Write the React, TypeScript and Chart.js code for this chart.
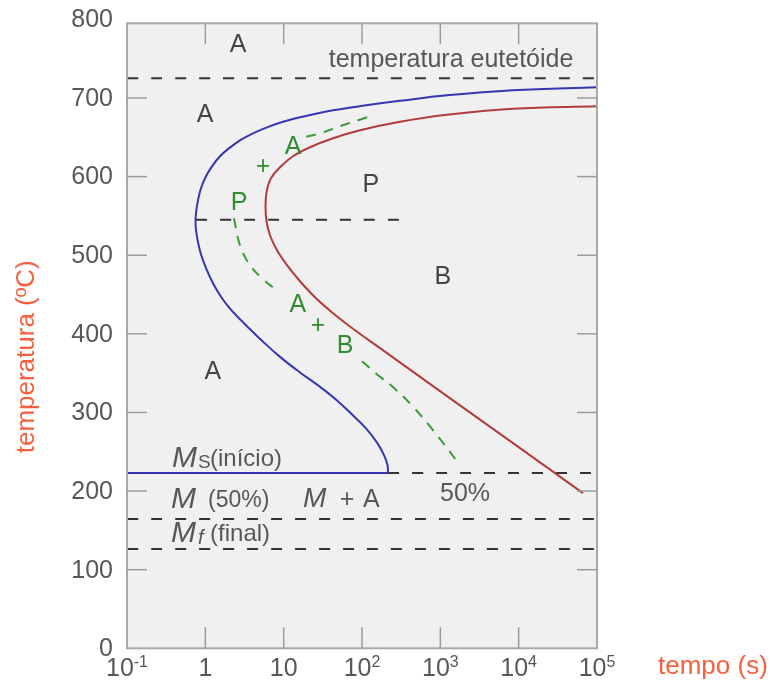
import React, { useEffect, useRef } from 'react';
import { Chart, registerables } from 'chart.js';

Chart.register(...registerables);

// ---- axes ----
const TIME_MIN = 0.1;
const TIME_MAX = 100000;
const TEMP_MIN = 0;
const TEMP_MAX = 795;
const TEMP_TICKS = [0, 100, 200, 300, 400, 500, 600, 700, 800];
const TIME_TICKS = [0.1, 1, 10, 100, 1000, 10000, 100000];
const TIME_TICK_BASE = ['10', '1', '10', '10', '10', '10', '10'];
const TIME_TICK_EXP = ['-1', '', '', '2', '3', '4', '5'];

// ---- start of transformation (blue) ----
const START_TIME = [100000, 8472, 1216, 305.5, 112.5, 42.66, 16.17, 9.81, 6.13, 4.06, 2.77, 2.005, 1.539, 1.216, 1.02, 0.88, 0.806, 0.76,
  0.749,
  0.76, 0.806, 0.88, 1.02, 1.253, 1.585, 2.065, 2.77, 3.72, 5.29, 8.98, 16.17, 29.1, 48.0, 76.8, 112.5, 155.5, 191, 211.7, 214.8];
const START_TEMP = [713.6, 709.8, 703.4, 696.4, 690.7, 684.3, 675.4, 669.7, 662.7, 655.1, 646.2, 636.0, 625.9, 613.1, 600.4, 585.2, 569.9, 553.4,
  541.9,
  531.8, 516.5, 501.3, 483.5, 464.4, 447.2, 432.0, 418.6, 405.9, 391.3, 370.7, 350.9, 332.6, 315.3, 296.2, 279.7, 261.6, 245.7, 233.0, 222.9];

// ---- end of transformation (red) ----
const FINISH_TIME = [100000, 8472, 1216, 305.5, 94.4, 42.66, 21.7, 13.16, 9.25, 6.89, 6.04, 5.87,
  6.04, 6.69, 8.22, 11.03, 16.17, 25.87, 42.66, 81.5, 170, 1216, 8472, 66200];
const FINISH_TEMP = [689.4, 686.2, 678.6, 669.7, 658.9, 648.7, 637.3, 625.9, 613.1, 597.9, 580.1, 561.0,
  543.2, 525.4, 506.4, 487.3, 466.9, 445.3, 426.3, 404.6, 381.8, 320.8, 261.0, 197.4];

// ---- 50% transformation (green dashed, three pieces) ----
const HALF_A_TIME = [116, 52, 29, 17.7];
const HALF_A_TEMP = [675.4, 664.0, 655.1, 650.0];
const HALF_B_TIME = [2.32, 2.77, 3.72, 5.45, 8.47];
const HALF_B_TEMP = [547.0, 512.7, 487.3, 469.5, 454.2];
const HALF_C_TIME = [100, 170, 250, 450, 805, 1780];
const HALF_C_TEMP = [365.2, 345.3, 332.2, 307.1, 277.5, 233.0];

// ---- reference temperatures ----
const EUTECTOID_TEMP = 725;
const SPLIT_TEMP = 545;
const SPLIT_TIME = [0.76, 420];
const MS_TEMP = 222.9;
const MS_END_TIME = 214.8;
const M50_TEMP = 164.4;
const MF_TEMP = 126.2;

// ---- text labels (time, temperature) ----
const REGION_TEXT = ['A', 'A', 'P', 'B', 'A'];
const REGION_TIME = [2.61, 0.99, 130, 1080, 1.25];
const REGION_TEMP = [767, 678, 589, 472, 351];
const GREEN_TEXT = ['A', '+', 'P', 'A', '+', 'B'];
const GREEN_TIME = [13.2, 5.45, 2.69, 15.2, 27.5, 60.7];
const GREEN_TEMP = [637, 612, 566, 436, 410, 384];

const FONT = "'Liberation Sans', Arial, Helvetica, sans-serif";
const BLUE = '#3636b4';
const RED = '#b23c3c';
const GREEN = '#3a9a3a';
const GREEN_TEXT_COLOR = '#2f8c2f';
const DARK = '#444444';
const GRAY = '#575757';
const ORANGE = '#f5603f';

const pts = (ts: number[], vs: number[]) => ts.map((t, i) => ({ x: t, y: vs[i] }));

const annotate = {
  id: 'annotate',
  beforeDraw(chart: any) {
    const { ctx, chartArea: a } = chart;
    ctx.save();
    ctx.fillStyle = '#f0f0f0';
    ctx.fillRect(a.left, a.top, a.right - a.left, a.bottom - a.top);
    ctx.restore();
  },
  afterDatasetsDraw(chart: any) {
    const { ctx, chartArea: a, scales } = chart;
    const xs = scales.x;
    const ys = scales.y;
    const X = (t: number) => xs.getPixelForValue(t);
    const Y = (v: number) => ys.getPixelForValue(v);
    const line = (x1: number, y1: number, x2: number, y2: number) => {
      ctx.beginPath();
      ctx.moveTo(x1, y1);
      ctx.lineTo(x2, y2);
      ctx.stroke();
    };
    const text = (s: string, x: number, y: number, font: string, color: string, align = 'left', base = 'alphabetic') => {
      ctx.font = font;
      ctx.fillStyle = color;
      ctx.textAlign = align;
      ctx.textBaseline = base;
      ctx.fillText(s, x, y);
    };
    ctx.save();
    // frame
    ctx.strokeStyle = '#a9a9a9';
    ctx.lineWidth = 2;
    ctx.strokeRect(a.left, a.top, a.right - a.left, a.bottom - a.top);
    // inner ticks
    ctx.strokeStyle = '#9c9c9c';
    ctx.lineWidth = 1.5;
    TIME_TICKS.forEach((t) => {
      if (t <= TIME_MIN || t >= TIME_MAX) return;
      const px = X(t);
      line(px, a.bottom, px, a.bottom - 21);
      line(px, a.top, px, a.top + 21);
    });
    TEMP_TICKS.forEach((v) => {
      if (v <= TEMP_MIN || v >= TEMP_MAX) return;
      const py = Y(v);
      line(a.left, py, a.left + 20, py);
      line(a.right, py, a.right - 20, py);
    });

    // y tick labels
    TEMP_TICKS.forEach((v) => {
      text(String(v), a.left - 14, Y(v) + 1, `25px ${FONT}`, GRAY, 'right', 'middle');
    });

    // x tick labels with exponents
    const baseFont = `25px ${FONT}`;
    const expFont = `16px ${FONT}`;
    TIME_TICKS.forEach((t, i) => {
      const b = TIME_TICK_BASE[i];
      const e = TIME_TICK_EXP[i];
      ctx.font = baseFont;
      const wb = ctx.measureText(b).width;
      ctx.font = expFont;
      const we = e ? ctx.measureText(e).width : 0;
      const x0 = X(t) - (wb + we) / 2;
      const yb = a.bottom + 28;
      text(b, x0, yb, baseFont, GRAY);
      if (e) text(e, x0 + wb, yb - 9, expFont, GRAY);
    });

    // axis titles
    text('tempo (s)', a.right + 61, a.bottom + 26, `26px ${FONT}`, ORANGE);
    ctx.save();
    ctx.translate(a.left - 100, (a.top + a.bottom) / 2 + 21);
    ctx.rotate(-Math.PI / 2);
    text('temperatura (ºC)', 0, 0, `26px ${FONT}`, ORANGE, 'center', 'middle');
    ctx.restore();

    // region labels
    REGION_TEXT.forEach((s, i) => {
      text(s, X(REGION_TIME[i]), Y(REGION_TEMP[i]), `25px ${FONT}`, DARK, 'center', 'middle');
    });
    GREEN_TEXT.forEach((s, i) => {
      text(s, X(GREEN_TIME[i]), Y(GREEN_TEMP[i]), `25px ${FONT}`, GREEN_TEXT_COLOR, 'center', 'middle');
    });
    text('temperatura eutetóide', X(1370), Y(748), `25px ${FONT}`, GRAY, 'center', 'middle');
    text('50%', X(2065), Y(196), `25px ${FONT}`, GRAY, 'center', 'middle');

    // martensite labels
    const mFont = `italic 30px ${FONT}`;
    let x0 = X(0.375);
    let y0 = Y(230.5);
    text('M', x0, y0, mFont, GRAY);
    text('S', x0 + 26, y0 + 1, `19px ${FONT}`, GRAY);
    text('(início)', x0 + 38, y0 - 1, `24px ${FONT}`, GRAY);

    x0 = X(0.365);
    y0 = Y(178.4);
    text('M', x0, y0, mFont, GRAY);
    text('(50%)', x0 + 37, y0 - 1, `23px ${FONT}`, GRAY);

    y0 = Y(135.5);
    text('M', x0, y0, mFont, GRAY);
    text('f', x0 + 27, y0 + 2, `italic 20px ${FONT}`, GRAY);
    text('(final)', x0 + 39, y0 - 1, `24px ${FONT}`, GRAY);

    x0 = X(17.7);
    y0 = Y(179.6);
    text('M', x0, y0, `italic 28px ${FONT}`, GRAY);
    text('+', x0 + 44, y0, `25px ${FONT}`, GRAY, 'center');
    text('A', x0 + 60, y0, `25px ${FONT}`, GRAY);
    ctx.restore();
  },
};

export default function App() {
  const ref = useRef<HTMLCanvasElement | null>(null);
  useEffect(() => {
    if (!ref.current) return;
    const solid = (data: any[], color: string, tension = 0.4) => ({
      data, borderColor: color, borderWidth: 2, pointRadius: 0, tension, fill: false,
    });
    const dashed = (data: any[], color: string, dash: number[]) => ({
      data, borderColor: color, borderWidth: 2, pointRadius: 0, tension: 0.4, fill: false, borderDash: dash,
    });
    const chart = new Chart(ref.current, {
      type: 'line',
      data: {
        datasets: [
          solid(pts(START_TIME, START_TEMP), BLUE),
          solid(pts(FINISH_TIME, FINISH_TEMP), RED),
          dashed(pts(HALF_A_TIME, HALF_A_TEMP), GREEN, [10, 8]),
          dashed(pts(HALF_B_TIME, HALF_B_TEMP), GREEN, [10, 8]),
          dashed(pts(HALF_C_TIME, HALF_C_TEMP), GREEN, [10, 8]),
          solid([{ x: TIME_MIN, y: MS_TEMP }, { x: MS_END_TIME, y: MS_TEMP }], BLUE, 0),
          dashed([{ x: MS_END_TIME, y: MS_TEMP }, { x: TIME_MAX, y: MS_TEMP }], '#333', [11, 13]),
          dashed([{ x: TIME_MIN, y: EUTECTOID_TEMP }, { x: TIME_MAX, y: EUTECTOID_TEMP }], '#333', [11, 13]),
          dashed([{ x: SPLIT_TIME[0], y: SPLIT_TEMP }, { x: SPLIT_TIME[1], y: SPLIT_TEMP }], '#333', [11, 13]),
          dashed([{ x: TIME_MIN, y: M50_TEMP }, { x: TIME_MAX, y: M50_TEMP }], '#333', [11, 13]),
          dashed([{ x: TIME_MIN, y: MF_TEMP }, { x: TIME_MAX, y: MF_TEMP }], '#333', [11, 13]),
        ] as any,
      },
      options: {
        animation: false,
        responsive: false,
        events: [],
        layout: { padding: { left: 127, right: 180, top: 23.3, bottom: 32.7 } },
        plugins: { legend: { display: false }, tooltip: { enabled: false } },
        scales: {
          x: { type: 'logarithmic', min: TIME_MIN, max: TIME_MAX, display: false },
          y: { type: 'linear', min: TEMP_MIN, max: TEMP_MAX, display: false },
        },
      } as any,
      plugins: [annotate],
    });
    return () => chart.destroy();
  }, []);
  return (
    <div style={{ position: 'absolute', left: 0, top: 0, width: 777, height: 681 }}>
      <canvas ref={ref} width={777} height={681} style={{ display: 'block' }} />
    </div>
  );
}
